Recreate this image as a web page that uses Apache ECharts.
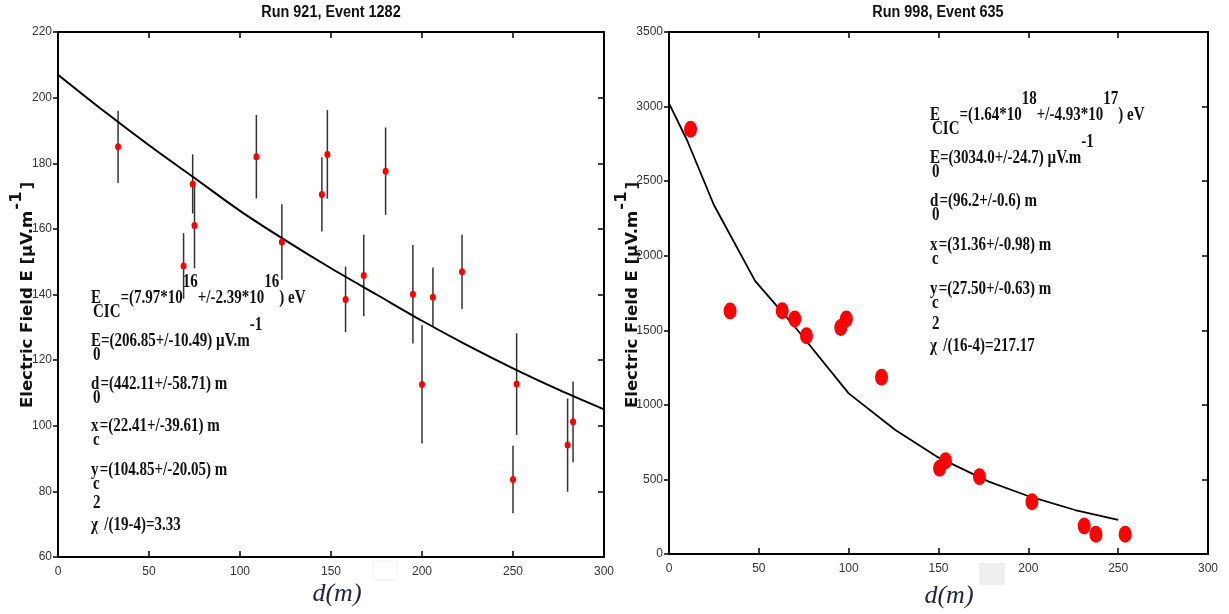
<!DOCTYPE html>
<html><head><meta charset="utf-8">
<script src="https://cdn.jsdelivr.net/npm/echarts@6/dist/echarts.min.js"></script>
<style>html,body{margin:0;padding:0;background:#fff}#c{width:1229px;height:614px}</style>
</head><body><div id="c"></div>
<script>
// ---------- data ----------
const leftTitle = 'Run 921, Event 1282';
const rightTitle = 'Run 998, Event 635';
const yAxisTitle = 'Electric Field E [µV.m';
const yAxisTitleSup = '-1';
const xAxisTitle = 'd(m)';

const leftD   = [33, 69, 74, 75, 109, 123, 145, 148, 180, 158, 168, 195, 206, 222, 200, 252, 250, 280, 283];
const leftE   = [185, 148.7, 173.7, 161, 182, 156, 170.5, 182.7, 177.6, 138.5, 145.8, 140.1, 139.2, 146.9, 112.6, 112.7, 83.6, 94.1, 101.2];
const leftErr = [11, 10, 9, 13, 12.7, 11.5, 11.3, 13.5, 13.3, 10, 12.4, 15, 9, 11.3, 18, 15.5, 10.3, 14.2, 12.3];

const leftFitD = [0, 25, 50, 75, 100, 125, 150, 175, 200, 225, 250, 275, 300];
const leftFitE = [207, 196, 185.5, 175.5, 165.5, 156.5, 148, 140, 132, 124.5, 117.5, 111, 105];

const rightD = [12, 34, 63, 70, 76.5, 95.6, 98.7, 118.3, 150.6, 153.9, 172.8, 202, 231.1, 237.6, 253.9];
const rightE = [2848, 1629, 1631, 1576, 1464, 1518, 1576, 1185, 575, 626, 518, 351, 188, 132, 132];

const rightFitD = [0, 10, 25, 48, 70, 100, 126, 149, 178, 201, 226, 250];
const rightFitE = [3022, 2776, 2340, 1830, 1524, 1077, 831, 653, 485, 384, 295, 228];

const leftAnn = [
  [['E','n'],['CIC','sub'],['=(7.97*10','n'],['16','sup'],['+/-2.39*10','n'],['16','sup'],[') eV','n']],
  [['E','n'],['0','sub'],['=(206.85+/-10.49) µV.m','n'],['-1','sup']],
  [['d','n'],['0','sub'],['=(442.11+/-58.71) m','n']],
  [['x','n'],['c','sub'],['=(22.41+/-39.61) m','n']],
  [['y','n'],['c','sub'],['=(104.85+/-20.05) m','n']],
  [['χ','n'],['2','supo'],[' /(19-4)=3.33','n']]
];
const rightAnn = [
  [['E','n'],['CIC','sub'],['=(1.64*10','n'],['18','sup'],['+/-4.93*10','n'],['17','sup'],[') eV','n']],
  [['E','n'],['0','sub'],['=(3034.0+/-24.7) µV.m','n'],['-1','sup']],
  [['d','n'],['0','sub'],['=(96.2+/-0.6) m','n']],
  [['x','n'],['c','sub'],['=(31.36+/-0.98) m','n']],
  [['y','n'],['c','sub'],['=(27.50+/-0.63) m','n']],
  [['χ','n'],['2','supo'],[' /(16-4)=217.17','n']]
];

// ---------- helpers ----------
const SERIF = '"Liberation Serif","Times New Roman","DejaVu Serif",serif';
const SANS = '"Liberation Sans",Arial,sans-serif';
const SANSB = '"DejaVu Sans","Liberation Sans",Arial,sans-serif';
const mctx = document.createElement('canvas').getContext('2d');
function tw(t, weight, size, fam) {
  mctx.font = 'normal ' + weight + ' ' + size + 'px ' + fam;
  return mctx.measureText(t).width;
}
function mathLine(x0, yc, parts, size) {
  const els = []; let cur = x0, prev = x0;
  parts.forEach(([t, m]) => {
    const w = tw(t, 'bold', size, SERIF);
    let x, y;
    if (m === 'sub') { x = prev + 2; y = yc + 14; cur = Math.max(cur, x + w); }
    else if (m === 'sup') { x = cur; y = yc - 16; cur = x + w; }
    else if (m === 'supo') { x = prev + 2; y = yc - 22; cur = Math.max(cur, x + w); }
    else { x = cur; y = yc; prev = cur; cur = x + w; }
    els.push({type: 'text', x: x, y: y, scaleY: 1.2, silent: true, z: 100,
      style: {text: t, fontSize: size, fontWeight: 'bold', fontFamily: SERIF, fill: '#111', align: 'left', verticalAlign: 'middle'}});
  });
  return els;
}
function annBlock(x0, centers, ann) {
  let out = [];
  ann.forEach((line, i) => { out = out.concat(mathLine(x0, centers[i], line, 15)); });
  return out;
}
function yName(xc, y0) {
  const size = 15;
  const w = tw(yAxisTitle, 'bold', size, SANSB);
  const ws = tw(yAxisTitleSup, 'bold', size, SANSB);
  const st = (t) => ({text: t, fontSize: size, fontWeight: 'bold', fontFamily: SANSB, fill: '#111', align: 'left', verticalAlign: 'middle'});
  return {type: 'group', x: xc, y: y0, rotation: Math.PI / 2, scaleX: 1.1, silent: true, children: [
    {type: 'text', x: 0, y: 0, style: st(yAxisTitle)},
    {type: 'text', x: w + 1, y: -11, style: st(yAxisTitleSup)},
    {type: 'text', x: w + ws + 3, y: 0, style: st(']')}
  ]};
}
function titleText(cx, t) {
  return {type: 'text', x: cx, y: 13, scaleX: 0.9, silent: true, style: {text: t, fontSize: 16, fontWeight: 'bold', fontFamily: SANS, fill: '#111', align: 'center', verticalAlign: 'middle'}};
}
function xName(cx, cy) {
  return {type: 'text', x: cx, y: cy, silent: true, style: {text: xAxisTitle, fontSize: 26, fontStyle: 'italic', fontFamily: SERIF, fill: '#1b2442', align: 'center', verticalAlign: 'middle'}};
}

// ---------- axes ----------
const lab = {color: '#333', fontSize: 12, fontFamily: SANS, formatter: (v) => String(v)};
function xAx(grid, pos) {
  return {type: 'value', gridIndex: grid, position: pos, min: 0, max: 300, interval: 50,
    axisLine: {onZero: false, lineStyle: {color: '#000', width: 2}},
    axisTick: {inside: true, length: 6, lineStyle: {color: '#000', width: 1.5}},
    axisLabel: pos === 'bottom' ? Object.assign({margin: 9}, lab) : {show: false},
    splitLine: {show: false}};
}
function yAx(grid, pos, min, max, iv) {
  const left = pos === 'left';
  return {type: 'value', gridIndex: grid, position: pos, min: min, max: max, interval: iv,
    axisLine: {onZero: false, lineStyle: {color: '#000', width: 2}},
    axisTick: {inside: !left, length: left ? 5 : 6, lineStyle: {color: '#000', width: 1.5}},
    axisLabel: left ? Object.assign({margin: 6}, lab) : {show: false},
    splitLine: {show: false}};
}

function errSeries(xi, yi, d, e, err) {
  return {type: 'custom', xAxisIndex: xi, yAxisIndex: yi, z: 2, silent: true,
    data: d.map((v, i) => [v, e[i], err[i]]),
    renderItem: function (params, api) {
      const x = api.value(0), y = api.value(1), r = api.value(2);
      const p1 = api.coord([x, y + r]), p2 = api.coord([x, y - r]);
      return {type: 'line', shape: {x1: p1[0], y1: p1[1], x2: p2[0], y2: p2[1]}, style: {stroke: '#333', lineWidth: 1.5}};
    }};
}

const chart = echarts.init(document.getElementById('c'), null, {renderer: 'canvas'});
chart.setOption({
  animation: false,
  backgroundColor: '#fff',
  grid: [
    {left: 58, top: 32, width: 546, height: 525},
    {left: 669, top: 32, width: 539, height: 522}
  ],
  xAxis: [xAx(0, 'bottom'), xAx(0, 'top'), xAx(1, 'bottom'), xAx(1, 'top')],
  yAxis: [yAx(0, 'left', 60, 220, 20), yAx(0, 'right', 60, 220, 20), yAx(1, 'left', 0, 3500, 500), yAx(1, 'right', 0, 3500, 500)],
  series: [
    errSeries(0, 0, leftD, leftE, leftErr),
    {type: 'line', xAxisIndex: 0, yAxisIndex: 0, z: 3, smooth: 0.3, showSymbol: false, silent: true,
      data: leftFitD.map((d, i) => [d, leftFitE[i]]), lineStyle: {color: '#000', width: 2}},
    {type: 'scatter', xAxisIndex: 0, yAxisIndex: 0, z: 4, symbol: 'circle', symbolSize: [6, 7],
      data: leftD.map((d, i) => [d, leftE[i]]), itemStyle: {color: '#ff0000', opacity: 1}},
    {type: 'line', xAxisIndex: 2, yAxisIndex: 2, z: 3, showSymbol: false, silent: true,
      data: rightFitD.map((d, i) => [d, rightFitE[i]]), lineStyle: {color: '#000', width: 1.8}},
    {type: 'scatter', xAxisIndex: 2, yAxisIndex: 2, z: 4, symbol: 'circle', symbolSize: [13, 17],
      data: rightD.map((d, i) => [d, rightE[i]]), itemStyle: {color: '#ff0000', opacity: 1}}
  ],
  graphic: [
    titleText(331, leftTitle),
    titleText(938, rightTitle),
    yName(28, 408),
    yName(633, 408),
    {type: 'rect', shape: {x: 373, y: 561, width: 24, height: 19}, style: {fill: '#fff', stroke: '#f0f0f0'}, silent: true},
    {type: 'rect', shape: {x: 979, y: 563, width: 26, height: 22}, style: {fill: '#eeeeee'}, silent: true},
    xName(337, 594),
    xName(949, 596)
  ].concat(annBlock(91, [298, 341, 384, 426, 470, 525], leftAnn))
   .concat(annBlock(930, [115, 158, 201, 245, 289, 346], rightAnn))
});
</script></body></html>
